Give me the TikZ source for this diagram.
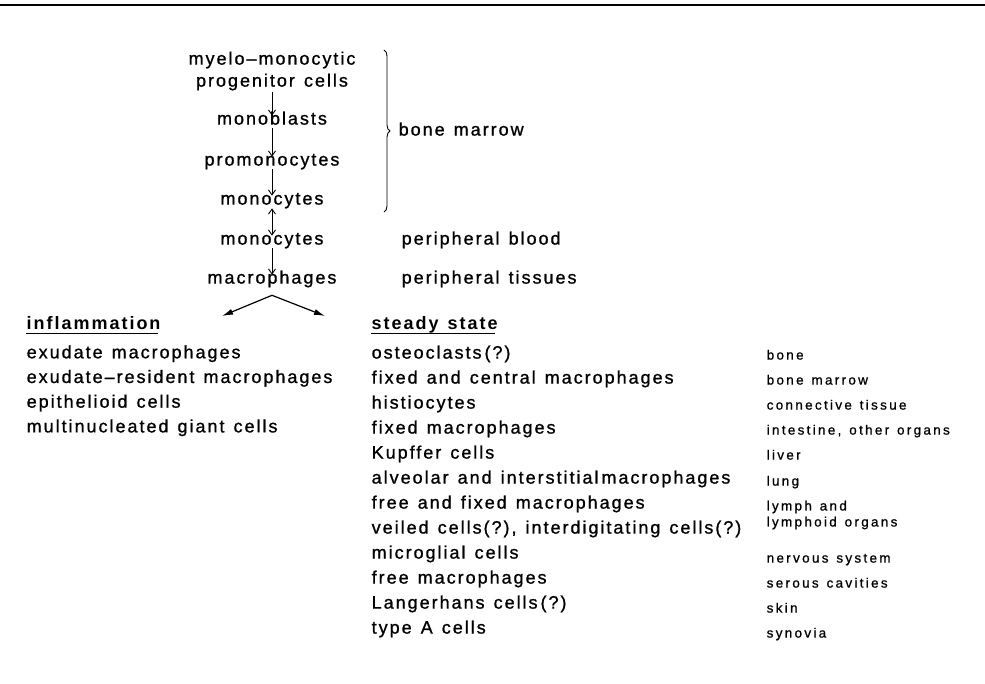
\documentclass[tikz,border=0pt]{standalone}
\usepackage{fontspec}
\setmainfont{Liberation Sans}[LetterSpace=11, WordSpace=1.3, Ligatures={TeX,NoCommon}, UprightFeatures={FakeBold=1}]
\newfontfamily\organfont{Liberation Sans}[LetterSpace=17, WordSpace=1.3, Ligatures=NoCommon, FakeBold=0.8]
\usetikzlibrary{arrows.meta,decorations.pathreplacing}

\begin{document}
\begin{tikzpicture}[x=1pt, y=-1pt,
    font=\fontsize{18}{22}\selectfont,
    cell/.style={inner sep=1.5pt},
    place/.style={text height=.72em, text depth=.2em},
    stage/.style={cell, place},
    item/.style={stage, anchor=west},
    organ/.style={cell, anchor=west, font=\organfont\fontsize{13.5}{16}\selectfont},
    arrow/.style={-{Straight Barb[length=5pt,width=7pt]}, line width=.9pt},
    twoway/.style={{Straight Barb[length=5pt,width=7pt]}-{Straight Barb[length=5pt,width=7pt]}, line width=.9pt},
    fork/.style={-{Latex[length=11pt,width=6pt]}, line width=1.2pt},
    rule/.style={line width=1.4pt}
  ]
    \useasboundingbox (0,0) rectangle (985,684);
    \draw[line width=2.5pt] (0,5) -- (985,5);

    \node[cell, align=center] (prog) at (272,71) {myelo\textendash monocytic\\progenitor cells};
    \node[stage] (mblast) at (272,122) {monoblasts};
    \node[stage] (promono) at (272,163) {promonocytes};
    \node[stage] (mono) at (272,202) {monocytes};
    \node[stage] (monob) at (272,242) {monocytes};
    \node[stage] (macro) at (272,281) {macrophages};
    \draw[arrow] (prog) -- (mblast);
    \draw[arrow] (mblast) -- (promono);
    \draw[arrow] (promono) -- (mono);
    \draw[twoway] (mono) -- (monob);
    \draw[arrow] (monob) -- (macro);

    \draw[decorate, decoration={brace, amplitude=6pt}, line width=.9pt] (384,50) -- (384,212);
    \node[item] (marrow) at (397,133) {bone marrow};
    \node[item] (blood) at (400,242) {peripheral blood};
    \node[item] (tissue) at (400,281) {peripheral tissues};

    \coordinate (split) at ([yshift=-8pt]macro.south);
    \coordinate (leftend) at (222,316);
    \coordinate (rightend) at (325,316);
    \draw[fork] (split) -- (leftend);
    \draw[fork] (split) -- (rightend);

    \node[item] (infl) at (25,327) {\bfseries inflammation};
    \draw[rule] ([xshift=1pt]infl.south west) -- ([xshift=-4pt]infl.south east);
    \foreach \t [count=\i] in {exudate macrophages, exudate\textendash resident macrophages, epithelioid cells, multinucleated giant cells}
      \node[item] (infl\i) at (25,{331+24.7*\i}) {\t};

    \node[item] (steady) at (370,327) {\bfseries steady state};
    \draw[rule] ([xshift=1pt]steady.south west) -- ([xshift=-4pt]steady.south east);
    \foreach \t [count=\i] in {osteoclasts\,(?), fixed and central macrophages, histiocytes, fixed macrophages, Kupffer cells, alveolar and interstitial\,macrophages, free and fixed macrophages, {veiled cells(?), interdigitating cells(?)}, microglial cells, free macrophages, Langerhans cells\,(?), type A cells}
      \node[item] (cell\i) at (370,{331+25*\i}) {\t};

    \foreach \t/\y in {bone/357, bone marrow/382, connective tissue/407, {intestine, other organs}/432, liver/457, lung/483, nervous system/560, serous cavities/585, skin/610, synovia/635}
      \node[organ, place] (organ\y) at (765,\y) {\t};
    \node[organ, align=left] (lymph) at (765,515) {lymph and\\lymphoid organs};
  \end{tikzpicture}
\end{document}
